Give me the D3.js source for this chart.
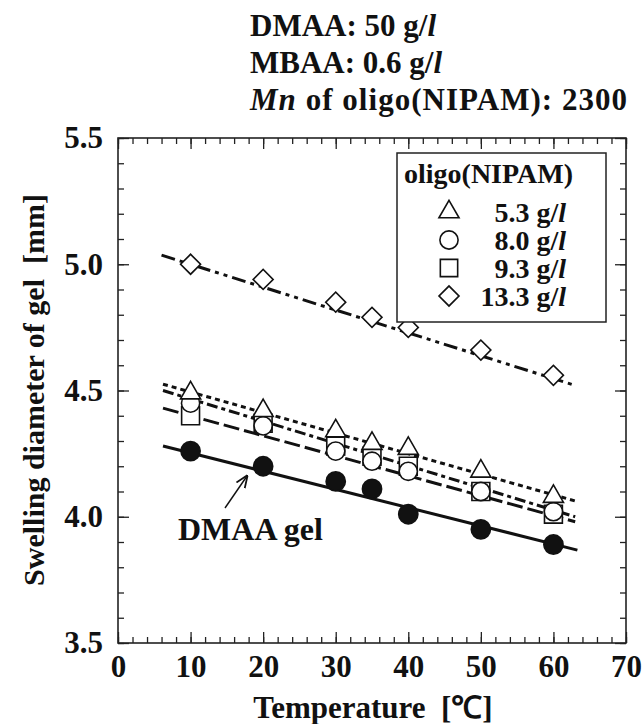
<!DOCTYPE html>
<html>
<head>
<meta charset="utf-8">
<script src="https://cdn.jsdelivr.net/npm/d3@7"></script>
<style>
  body { margin: 0; background: #fff; }
  svg text { font-family: "Liberation Serif", "Times New Roman", serif; font-weight: bold; fill: #111; }
</style>
</head>
<body>
<script>
// temperatures where the gels were measured
var temps = [10, 20, 30, 35, 40, 50, 60];

// swelling diameter [mm] for each gel
var dmaaGel = [4.26, 4.20, 4.14, 4.11, 4.01, 3.95, 3.89];
var oligo53 = [4.49, 4.42, 4.34, 4.29, 4.27, 4.18, 4.08];
var oligo80 = [4.45, 4.36, 4.26, 4.22, 4.18, 4.10, 4.02];
var oligo93 = [4.40, 4.37, 4.28, 4.24, 4.20, 4.10, 4.01];
var oligo133 = [5.00, 4.94, 4.85, 4.79, 4.75, 4.66, 4.56];

// fitted lines: [[T start, d start], [T end, d end]]
var fitDmaa = [[6.2, 4.28], [63.3, 3.868]];
var fit53 = [[6.2, 4.525], [63.3, 4.06]];
var fit80 = [[6.2, 4.50], [63.0, 4.00]];
var fit93 = [[6.2, 4.43], [63.0, 3.98]];
var fit133 = [[6.0, 5.036], [63.0, 4.52]];

var legendLabels = ["5.3", "8.0", "9.3", "13.3"];
var xTicks = [0, 10, 20, 30, 40, 50, 60, 70];
var yTicks = [3.5, 4.0, 4.5, 5.0, 5.5];

var margin = {top: 138, left: 118},
    width = 508,
    height = 505;

var svg = d3.select("body").append("svg")
    .attr("width", 642)
    .attr("height", 724);

var x = d3.scaleLinear().domain([0, 70]).range([0, width]);
var y = d3.scaleLinear().domain([3.5, 5.5]).range([height, 0]);

var g = svg.append("g")
    .attr("transform", "translate(" + margin.left + "," + margin.top + ")");

// title block
var title = svg.append("g").attr("font-size", 31);
function gl(t, conc) {
    t.append("tspan").text(conc + " g/");
    t.append("tspan").attr("font-style", "italic").text("l");
}
var t1 = title.append("text").attr("x", 250).attr("y", 36).text("DMAA: ");
gl(t1, "50");
var t2 = title.append("text").attr("x", 250).attr("y", 73).text("MBAA: ");
gl(t2, "0.6");
var t3 = title.append("text").attr("x", 250).attr("y", 110)
    .attr("textLength", 377).attr("lengthAdjust", "spacing");
t3.append("tspan").attr("font-style", "italic").text("Mn");
t3.append("tspan").text(" of oligo(NIPAM): 2300");

// axes with inward ticks
function styleAxis(sel) {
    sel.select(".domain").remove();
    sel.selectAll("line").attr("stroke", "#222").attr("stroke-width", 1.3);
    sel.selectAll("text").attr("font-size", 31).attr("fill", "#111")
        .attr("font-family", "Liberation Serif").attr("font-weight", "bold");
}

var minorX = d3.range(0, 71, 2);
var minorY = d3.range(35, 56).map(function(v){ return v / 10; });

g.append("g").attr("transform", "translate(0," + height + ")")
    .call(d3.axisBottom(x).tickValues(minorX).tickFormat("").tickSize(-6))
    .call(styleAxis);
g.append("g").attr("transform", "translate(0," + height + ")")
    .call(d3.axisBottom(x).tickValues(xTicks).tickFormat(d3.format("d")).tickSize(-11).tickPadding(12))
    .call(styleAxis);
g.append("g")
    .call(d3.axisTop(x).tickValues(minorX).tickFormat("").tickSize(-6))
    .call(styleAxis);
g.append("g")
    .call(d3.axisTop(x).tickValues(xTicks).tickFormat("").tickSize(-11))
    .call(styleAxis);

g.append("g")
    .call(d3.axisLeft(y).tickValues(minorY).tickFormat("").tickSize(-6))
    .call(styleAxis);
g.append("g")
    .call(d3.axisLeft(y).tickValues(yTicks).tickFormat(d3.format(".1f")).tickSize(-11).tickPadding(15))
    .call(styleAxis);
g.append("g").attr("transform", "translate(" + width + ",0)")
    .call(d3.axisRight(y).tickValues(minorY).tickFormat("").tickSize(-6))
    .call(styleAxis);
g.append("g").attr("transform", "translate(" + width + ",0)")
    .call(d3.axisRight(y).tickValues(yTicks).tickFormat("").tickSize(-11))
    .call(styleAxis);

g.append("rect")
    .attr("width", width).attr("height", height)
    .attr("fill", "none").attr("stroke", "#222").attr("stroke-width", 1.6);

// axis titles (nbsp keeps the double gap before the unit)
svg.append("text")
    .attr("x", 373).attr("y", 718)
    .attr("text-anchor", "middle").attr("font-size", 31)
    .text("Temperature\u00a0\u00a0[\u2103]");
svg.append("text")
    .attr("transform", "translate(44,390) rotate(-90)")
    .attr("text-anchor", "middle").attr("font-size", 30)
    .text("Swelling diameter of gel\u00a0\u00a0[mm]");

// fit lines
var line = d3.line()
    .x(function(d){ return x(d[0]); })
    .y(function(d){ return y(d[1]); });

var fits = [
    {pts: fitDmaa, dash: null},
    {pts: fit53, dash: "5,4"},
    {pts: fit80, dash: "11,4,4,4"},
    {pts: fit93, dash: "16,5"},
    {pts: fit133, dash: "14,5,4,5,4,5"}
];
g.selectAll(".fit")
    .data(fits)
    .enter().append("path")
    .attr("class", "fit")
    .attr("d", function(d){ return line(d.pts); })
    .attr("fill", "none")
    .attr("stroke", "#111")
    .attr("stroke-width", 3)
    .attr("stroke-dasharray", function(d){ return d.dash; });

// markers
var series = [
    {vals: oligo93, type: d3.symbolSquare, size: 320, rot: 0, fill: "#fff"},
    {vals: oligo80, type: d3.symbolCircle, size: 260, rot: 0, fill: "#fff"},
    {vals: oligo53, type: d3.symbolTriangle, size: 175, rot: 0, fill: "#fff"},
    {vals: oligo133, type: d3.symbolSquare, size: 200, rot: 45, fill: "#fff"},
    {vals: dmaaGel, type: d3.symbolCircle, size: 290, rot: 0, fill: "#111"}
];

series.forEach(function(s){
    g.selectAll(null)
        .data(s.vals)
        .enter().append("path")
        .attr("d", d3.symbol().type(s.type).size(s.size))
        .attr("transform", function(d, i){
            return "translate(" + x(temps[i]) + "," + y(d) + ") rotate(" + s.rot + ")";
        })
        .attr("fill", s.fill)
        .attr("stroke", "#111")
        .attr("stroke-width", 1.6);
});

// DMAA gel annotation
svg.append("text")
    .attr("x", 178).attr("y", 540)
    .attr("font-size", 32)
    .text("DMAA gel");
svg.append("defs").append("marker")
    .attr("id", "arrow")
    .attr("viewBox", "0 0 10 10")
    .attr("refX", 9).attr("refY", 5)
    .attr("markerWidth", 9).attr("markerHeight", 9)
    .attr("orient", "auto")
    .append("path")
    .attr("d", "M0,1 L10,5 L0,9")
    .attr("fill", "none").attr("stroke", "#111").attr("stroke-width", 1.4);
svg.append("line")
    .attr("x1", 225).attr("y1", 508)
    .attr("x2", 247).attr("y2", 476)
    .attr("stroke", "#111").attr("stroke-width", 1.4)
    .attr("marker-end", "url(#arrow)");

// legend
var legend = svg.append("g");
legend.append("rect")
    .attr("x", 397).attr("y", 153)
    .attr("width", 209).attr("height", 169)
    .attr("fill", "#fff").attr("stroke", "#222").attr("stroke-width", 1.5);
legend.append("text")
    .attr("x", 404).attr("y", 183)
    .attr("font-size", 28)
    .text("oligo(NIPAM)");

var legendSyms = [
    {type: d3.symbolTriangle, size: 175, rot: 0},
    {type: d3.symbolCircle, size: 260, rot: 0},
    {type: d3.symbolSquare, size: 300, rot: 0},
    {type: d3.symbolSquare, size: 200, rot: 45}
];
legendLabels.forEach(function(lab, i){
    var cy = 212 + i * 28;
    legend.append("path")
        .attr("d", d3.symbol().type(legendSyms[i].type).size(legendSyms[i].size))
        .attr("transform", "translate(449," + cy + ") rotate(" + legendSyms[i].rot + ")")
        .attr("fill", "#fff").attr("stroke", "#111").attr("stroke-width", 1.6);
    var t = legend.append("text")
        .attr("x", 566).attr("y", cy + 10)
        .attr("text-anchor", "end")
        .attr("font-size", 28)
        .text(lab + " g/");
    t.append("tspan").attr("font-style", "italic").text("l");
});
</script>
</body>
</html>
